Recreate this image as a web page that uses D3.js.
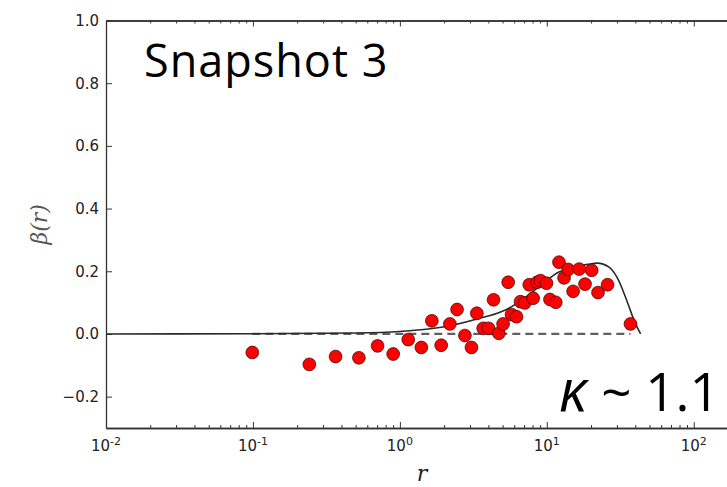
<!DOCTYPE html>
<html>
<head>
<meta charset="utf-8">
<script src="https://cdn.jsdelivr.net/npm/d3@7"></script>
<style>
  html, body { margin: 0; padding: 0; background: #fff; }
  svg { display: block; }
</style>
</head>
<body>
<svg id="chart" width="727" height="487"></svg>
<script>
// ---- data ----
const pointR = [0.099, 0.242, 0.365, 0.526, 0.705, 0.90, 1.14, 1.40, 1.65, 1.91,
                2.19, 2.45, 2.77, 3.07, 3.34, 3.69, 4.01, 4.34, 4.71, 5.04,
                5.46, 5.75, 6.22, 6.62, 7.08, 7.59, 8.07, 8.60, 9.06, 9.95,
                10.5, 11.5, 12.1, 13.1, 13.97, 15.1, 16.6, 18.2, 20.2, 22.3,
                25.9, 37.1];
const pointBeta = [-0.059, -0.097, -0.072, -0.076, -0.038, -0.064, -0.018, -0.043, 0.042, -0.036,
                   0.032, 0.078, -0.005, -0.043, 0.066, 0.018, 0.018, 0.109, 0.002, 0.032,
                   0.165, 0.062, 0.055, 0.103, 0.099, 0.157, 0.114, 0.165, 0.170, 0.162,
                   0.110, 0.101, 0.229, 0.179, 0.206, 0.136, 0.207, 0.159, 0.203, 0.132,
                   0.157, 0.032];
const curveR = [0.01, 0.1, 0.5, 1.0, 2.2, 3.5, 4.8, 6.2, 7.7, 9.5,
                12.0, 15.0, 19.0, 22.0, 26.5, 30.0, 35.0, 39.5, 43.5];
const curveBeta = [0.0, 0.0005, 0.003, 0.008, 0.026, 0.05, 0.069, 0.096, 0.128, 0.163,
                   0.197, 0.213, 0.222, 0.226, 0.213, 0.181, 0.107, 0.04, 0.0];
const zeroLineR = [0.099, 37.1];
const xDomain = [0.01, 200];
const yDomain = [-0.3, 1.0];
const xMajorTicks = [0.01, 0.1, 1, 10, 100];
const xTickExponents = ["-2", "-1", "0", "1", "2"];
const yTicks = [-0.2, 0.0, 0.2, 0.4, 0.6, 0.8, 1.0];
const snapshotLabel = "Snapshot 3";
const kappaLabel = "κ";
const kappaValue = "~ 1.1";

// ---- layout ----
const svg = d3.select("#chart");
const mLeft = 106, mRight = 738, mTop = 20.5, mBottom = 428;
const x = d3.scaleLog().domain(xDomain).range([mLeft, mRight]);
const y = d3.scaleLinear().domain(yDomain).range([mBottom, mTop]);

const axisColor = "#333";
const tickFont = "DejaVu Sans, sans-serif";

// minor ticks
const minor = [];
for (let e = -2; e <= 2; e++) {
  for (let m = 2; m <= 9; m++) {
    const v = m * Math.pow(10, e);
    if (v > xDomain[0] && v < xDomain[1]) minor.push(v);
  }
}

const g = svg.append("g");

const xAxisB = d3.axisBottom(x).tickValues(xMajorTicks).tickSizeInner(-6).tickSizeOuter(0).tickFormat("");
const xAxisBMinor = d3.axisBottom(x).tickValues(minor).tickSizeInner(-3).tickSizeOuter(0).tickFormat("");
const xAxisT = d3.axisTop(x).tickValues(xMajorTicks).tickSizeInner(-6).tickSizeOuter(0).tickFormat("");
const xAxisTMinor = d3.axisTop(x).tickValues(minor).tickSizeInner(-3).tickSizeOuter(0).tickFormat("");
const yAxisL = d3.axisLeft(y).tickValues(yTicks).tickSizeInner(-6).tickSizeOuter(0).tickFormat("");

function styleAxis(sel) {
  sel.selectAll("path.domain").attr("stroke", axisColor).attr("stroke-width", 1.3);
  sel.selectAll(".tick line").attr("stroke", axisColor).attr("stroke-width", 1);
}

g.append("g").attr("transform", `translate(0,${mBottom})`).call(xAxisBMinor).call(styleAxis);
g.append("g").attr("transform", `translate(0,${mBottom})`).call(xAxisB).call(styleAxis);
g.append("g").attr("transform", `translate(0,${mTop})`).call(xAxisTMinor).call(styleAxis);
g.append("g").attr("transform", `translate(0,${mTop})`).call(xAxisT).call(styleAxis);
g.append("g").attr("transform", `translate(${mLeft},0)`).call(yAxisL).call(styleAxis);
g.append("line").attr("x1", mRight).attr("x2", mRight).attr("y1", mTop).attr("y2", mBottom)
  .attr("stroke", axisColor).attr("stroke-width", 1.3);

// y tick labels
g.selectAll("text.ylab").data(yTicks).enter().append("text")
  .attr("class", "ylab")
  .attr("x", mLeft - 7)
  .attr("y", d => y(d))
  .attr("dy", "0.36em")
  .attr("text-anchor", "end")
  .attr("font-family", tickFont)
  .attr("font-size", 15)
  .attr("fill", "#222")
  .text(d => d3.format(".1f")(d).replace("-", "\u2212"));

// x tick labels 10^e
const xl = g.selectAll("text.xlab").data(xMajorTicks).enter().append("text")
  .attr("class", "xlab")
  .attr("x", d => x(d))
  .attr("y", 451)
  .attr("text-anchor", "middle")
  .attr("font-family", tickFont)
  .attr("font-size", 15)
  .attr("fill", "#222");
xl.append("tspan").text("10");
xl.append("tspan").attr("dy", -6).attr("font-size", 11).text((d, i) => xTickExponents[i]);

// zero dashed line
g.append("line")
  .attr("x1", x(zeroLineR[0])).attr("x2", x(zeroLineR[1]))
  .attr("y1", y(0)).attr("y2", y(0))
  .attr("stroke", "#606060").attr("stroke-width", 2.2)
  .attr("stroke-dasharray", "8,5");

// solid curve
const curveData = curveR.map((r, i) => [r, curveBeta[i]]);
g.append("path")
  .datum(curveData)
  .attr("d", d3.line().x(d => x(d[0])).y(d => y(d[1])).curve(d3.curveMonotoneX))
  .attr("fill", "none")
  .attr("stroke", "#2a2a2a")
  .attr("stroke-width", 1.6);

// points
const pts = pointR.map((r, i) => [r, pointBeta[i]]);
g.selectAll("circle.pt").data(pts).enter().append("circle")
  .attr("class", "pt")
  .attr("cx", d => x(d[0]))
  .attr("cy", d => y(d[1]))
  .attr("r", 6.4)
  .attr("fill", "#ff0000")
  .attr("stroke", "#3a0000")
  .attr("stroke-width", 0.7);

// axis labels
g.append("text")
  .attr("transform", `translate(47,${(mTop + mBottom) / 2}) rotate(-90)`)
  .attr("text-anchor", "middle")
  .attr("font-family", "DejaVu Serif, serif")
  .attr("font-style", "italic")
  .attr("font-size", 22)
  .attr("fill", "#555")
  .text("β(r)");

g.append("text")
  .attr("x", (mLeft + mRight) / 2)
  .attr("y", 481)
  .attr("text-anchor", "middle")
  .attr("font-family", "DejaVu Serif, serif")
  .attr("font-style", "italic")
  .attr("font-size", 22)
  .attr("fill", "#222")
  .text("r");

// annotations
g.append("text")
  .attr("x", 144)
  .attr("y", 77)
  .attr("font-family", "Open Sans, Noto Sans, sans-serif")
  .attr("font-size", 45)
  .attr("letter-spacing", 1)
  .attr("fill", "#000")
  .text(snapshotLabel);

const kt = g.append("text")
  .attr("x", 559)
  .attr("y", 411)
  .attr("font-family", "Open Sans, Noto Sans, sans-serif")
  .attr("font-size", 53)
  .attr("fill", "#000");
kt.append("tspan").attr("font-style", "italic").attr("font-size", 58).text(kappaLabel);
kt.append("tspan").text(" " + kappaValue);
</script>
</body>
</html>
